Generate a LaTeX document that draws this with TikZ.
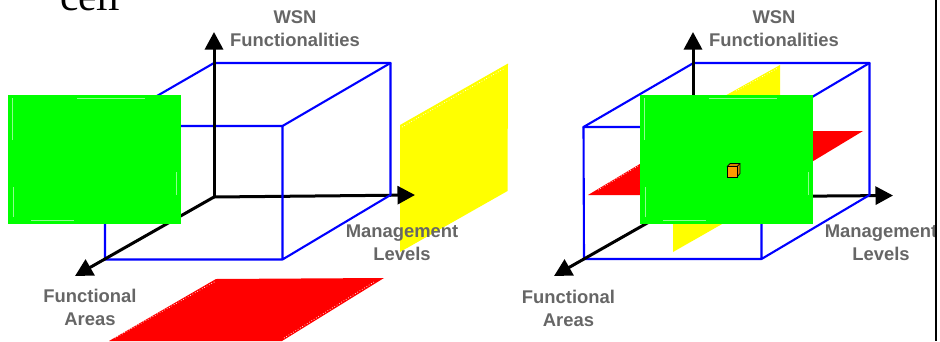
\documentclass[tikz,border=0pt]{standalone}
\usepackage{fontspec}
\setmainfont{Liberation Sans}
\newfontfamily\serifcell{Liberation Serif}
\usetikzlibrary{arrows.meta}
\definecolor{lbl}{HTML}{666666}
\definecolor{orangecube}{HTML}{FF9900}
\definecolor{pureyellow}{HTML}{FFFF00}
\definecolor{purered}{HTML}{FF0000}
\definecolor{puregreen}{HTML}{00FF00}
\definecolor{pureblue}{HTML}{0000FF}
\tikzset{
  x=1pt,y=-1pt,
  axis/.style={draw=black,line width=3pt,-{Triangle[length=17.5pt,width=18pt]}},
  edge3d/.style={draw=pureblue,line width=2.1pt,line join=round,line cap=round},
  label3d/.style={font=\bfseries\fontsize{18.4}{23}\selectfont,text=lbl,align=center,inner sep=0pt},
  greenplane/.style={fill=puregreen,draw=none},
  redplane/.style={fill=purered,draw=none},
  yellowplane/.style={fill=pureyellow,draw=none},
  sheen/.style={draw=white,line width=0.7pt,dotted},
  greensheen/.style={draw=puregreen!45!white,line width=0.8pt},
}
\newcommand{\greenmarks}{%
  \draw[greensheen] (12,98) -- (12,140);
  \draw[greensheen] (77,98) -- (145,98);
  \draw[greensheen] (13,187) -- (13,217);
  \draw[greensheen] (176,172) -- (176,195);
  \draw[greensheen] (31,220) -- (74,220);
}
\begin{document}
\begin{tikzpicture}
\useasboundingbox (0,0) rectangle (940,341);
\begin{scope}
\clip (0,0) rectangle (940,341);
\node[font=\serifcell\fontsize{41.5}{41.5}\selectfont,anchor=base,inner sep=0pt] (title) at (90,10) {cell};

% ---- left panel ----
\coordinate (o) at (214,197);
\coordinate (yt) at (214,32);
\coordinate (xt) at (415,195);
\coordinate (zt) at (75,276);
\coordinate (btl) at (214,63);
\coordinate (btr) at (390.5,63);
\coordinate (bbr) at (390.5,195);
\coordinate (ftl) at (105,126);
\coordinate (ftr) at (282.5,126);
\coordinate (fbl) at (105,259.5);
\coordinate (fbr) at (282.5,259.5);
\fill[yellowplane] (400,125) -- (508,63.5) -- (507.5,191) -- (400,252) -- cycle;
\draw[sheen] (402,127) -- (505,68);
\fill[redplane] (109,341) -- (216,279) -- (384,278) -- (282,341) -- cycle;
\draw[sheen] (115,338) -- (216,281);
\draw[sheen] (284,338) -- (374,282);
\draw[axis] (o) -- (xt);
\draw[edge3d] (btl) -- (btr) -- (bbr) -- (fbr) -- (fbl) -- (ftl) -- (ftr) -- (fbr);
\draw[edge3d] (ftl) -- (btl);
\draw[edge3d] (ftr) -- (btr);
\draw[axis] (o) -- (yt);
\draw[axis] (o) -- (zt);
\fill[greenplane] (8,95) rectangle (180.5,224);
\greenmarks
\node[label3d] (wl) at (295,29) {WSN\\Functionalities};
\node[label3d] (ml) at (402,242.5) {Management\\Levels};
\node[label3d] (fl) at (90,307.5) {Functional\\Areas};

% ---- right panel ----
\coordinate (o2) at (693,197);
\coordinate (yt2) at (693,32);
\coordinate (xt2) at (893,195.5);
\coordinate (zt2) at (554,276);
\coordinate (btl2) at (693.5,63);
\coordinate (btr2) at (869.5,63);
\coordinate (bbr2) at (869.5,195);
\coordinate (ftl2) at (583.5,127);
\coordinate (ftr2) at (761.5,127);
\coordinate (fbl2) at (584,259);
\coordinate (fbr2) at (761.5,259);
\fill[yellowplane] (673,125) -- (780,65) -- (780,191) -- (673,252) -- cycle;
\draw[sheen] (736,91) -- (778,68);
\fill[redplane] (588,195) -- (695,131) -- (863,131) -- (757,195) -- cycle;
\draw[sheen] (598,190) -- (638,166);
\draw[axis] (o2) -- (xt2);
\draw[edge3d] (btl2) -- (btr2) -- (bbr2) -- (fbr2) -- (fbl2) -- (ftl2) -- (ftr2) -- (fbr2);
\draw[edge3d] (ftl2) -- (btl2);
\draw[edge3d] (ftr2) -- (btr2);
\draw[axis] (o2) -- (yt2);
\draw[axis] (o2) -- (zt2);
\fill[greenplane] (640,95) rectangle (812.5,224);
\begin{scope}[shift={(632,0)}]
\greenmarks
\end{scope}
\draw[black,line width=0.7pt,fill=orangecube!85!black,line join=round] (727,166.5) -- (730,163.5) -- (740,163.5) -- (740,173.5) -- (737,177) -- cycle;
\draw[black,line width=0.7pt,fill=orangecube] (727,166.5) rectangle (737,177);
\draw[black,line width=0.7pt] (737,166.5) -- (740,163.5);
\node[label3d] (wr) at (774,29) {WSN\\Functionalities};
\node[label3d] (mr) at (881,242.5) {Management\\Levels};
\node[label3d] (fr) at (568.5,308) {Functional\\Areas};

% right border
\fill[black] (934.8,0) rectangle (936.8,341);
\end{scope}
\end{tikzpicture}
\end{document}
